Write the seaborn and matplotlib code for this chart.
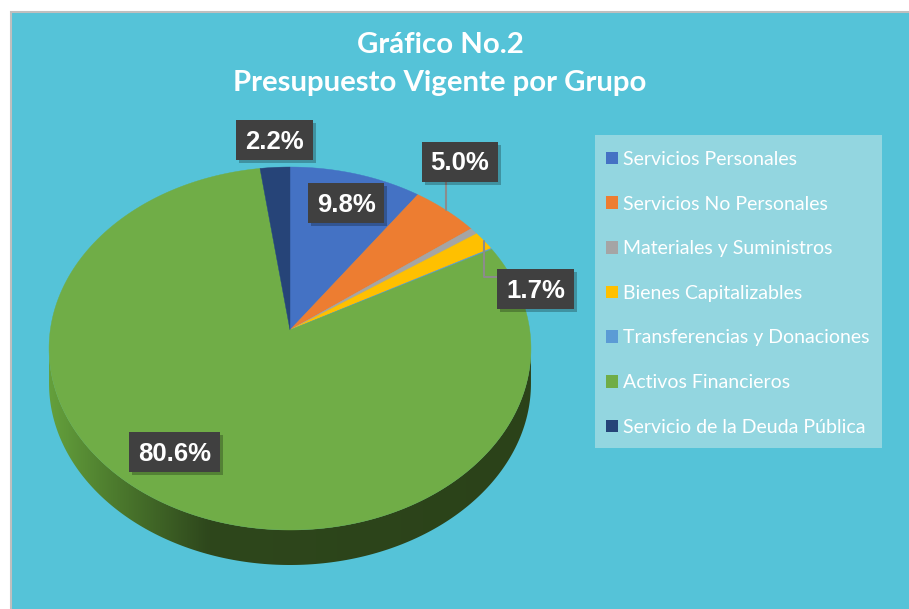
import numpy as np
import matplotlib.pyplot as plt
import seaborn as sns
from matplotlib.patches import Polygon, Rectangle, Patch
from matplotlib.colors import LinearSegmentedColormap
from matplotlib.font_manager import FontProperties

# data
categories = ["Servicios Personales", "Servicios No Personales", "Materiales y Suministros",
              "Bienes Capitalizables", "Transferencias y Donaciones", "Activos Financieros",
              "Servicio de la Deuda Pública"]
shares = [9.8, 5.0, 0.6, 1.7, 0.1, 80.6, 2.2]
colors = ["#4472C4", "#ED7D31", "#A5A5A5", "#FFC000", "#5B9BD5", "#70AD47", "#264478"]
labelled = [0, 1, 3, 5, 6]

sns.set_theme(style="white")
plt.rcParams['font.family'] = ['Lato', 'DejaVu Sans']
palette = sns.color_palette(colors)

fig = plt.figure(figsize=(9.09, 6.09), dpi=100)
ax = fig.add_axes([0, 0, 1, 1])
ax.set_xlim(0, 909)
ax.set_ylim(609, 0)
ax.axis('off')

# chart area
ax.add_patch(Rectangle((11, 12), 910, 610, facecolor='#55C3D8', edgecolor='#BFBFBF', lw=1.5, zorder=0))

# pie geometry (pixels), simple perspective tilt
x0, y0 = 290, 330      # projected centre of the pie
A, B, k = 239.7, 179.6, 0.102
depth = 35

def proj(t_deg):
    t = np.radians(np.atleast_1d(t_deg))
    w = 1 + k * np.sin(t)
    return np.column_stack([x0 + A * np.cos(t) / w, y0 - B * np.sin(t) / w])

def arc(t0, t1, n=200):
    return proj(np.linspace(t0, t1, n))

# side of the pie with a shading gradient
edge = np.degrees(np.arcsin(k))
top_edge = arc(180 + edge, 360 - edge)
side = np.vstack([top_edge, (top_edge + [0, depth])[::-1]])
side_patch = Polygon(side, closed=True, facecolor='none', edgecolor='none', zorder=1)
ax.add_patch(side_patch)
side_cmap = LinearSegmentedColormap.from_list(
    'side', [(0, '#64A03C'), (0.12, '#4F7F2F'), (0.33, '#2E471C'), (1, '#2B4219')])
xmin, xmax = side[:, 0].min(), side[:, 0].max()
grad = ax.imshow(np.linspace(0, 1, 256)[None, :], cmap=side_cmap, aspect='auto',
                 extent=(xmin, xmax, side[:, 1].max(), side[:, 1].min()), zorder=1)
grad.set_clip_path(side_patch)

# top face wedges
total = sum(shares)
start = 90.0
mids = []
for val, col in zip(shares, palette):
    sweep = val / total * 360
    pts = np.vstack([[x0, y0], arc(start, start - sweep, max(int(sweep * 2), 4))])
    ax.add_patch(Polygon(pts, closed=True, facecolor=col, edgecolor=col, lw=0.3, zorder=2))
    mids.append(start - sweep / 2)
    start -= sweep

# data labels (box centres)
label_pos = {0: (346, 203), 1: (460, 161.5), 3: (535.5, 289), 5: (174.5, 452), 6: (274.5, 140)}
box_h = 40

# leader lines from the middle of the rim to the label box
mx, my = proj(mids[1])[0]
ax.plot([mx, mx], [my, label_pos[1][1] + box_h / 2], color='#8C8C8C', lw=1.5, zorder=3)
mx, my = proj(mids[3])[0]
ax.plot([mx, mx, 497], [my, 276.5, 276.5], color='#8C8C8C', lw=1.5, zorder=3)

fig.canvas.draw()
renderer = fig.canvas.get_renderer()
lab_font = FontProperties(family='Liberation Sans', weight='bold', size=18.5)
for i in labelled:
    x, y = label_pos[i]
    t = ax.text(x, y + 9, f"{shares[i]:.1f}%", ha='center', va='baseline', color='white',
                fontproperties=lab_font, zorder=6)
    w = t.get_window_extent(renderer).width + 18
    ax.add_patch(Rectangle((x - w / 2 + 3, y - box_h / 2 + 3), w, box_h, facecolor='black',
                           alpha=0.25, edgecolor='none', zorder=4))
    ax.add_patch(Rectangle((x - w / 2, y - box_h / 2), w, box_h, facecolor='#404040',
                           edgecolor='none', zorder=5))

# title
title_font = FontProperties(family='Lato', weight='bold', size=21.2)
ax.text(440, 45, "Gráfico No.2", ha='center', va='center', color='white', fontproperties=title_font)
ax.text(440, 83, "Presupuesto Vigente por Grupo", ha='center', va='center', color='white',
        fontproperties=title_font)

# legend: plain box behind a frameless legend
ax.add_patch(Rectangle((595, 135), 287, 313, facecolor='#93D6E0', edgecolor='none', zorder=6))
handles = [Patch(facecolor=c, edgecolor='none') for c in palette]
leg = ax.legend(handles, categories, loc='upper left', bbox_to_anchor=(606, 151),
                bbox_transform=ax.transData, frameon=False, labelcolor='white',
                prop=FontProperties(family='Lato', size=14), handlelength=0.62,
                handleheight=0.62, handletextpad=0.25, labelspacing=1.42, borderpad=0,
                borderaxespad=0)
leg.set_zorder(7)

fig.savefig('out.png', dpi=100, facecolor='white')
